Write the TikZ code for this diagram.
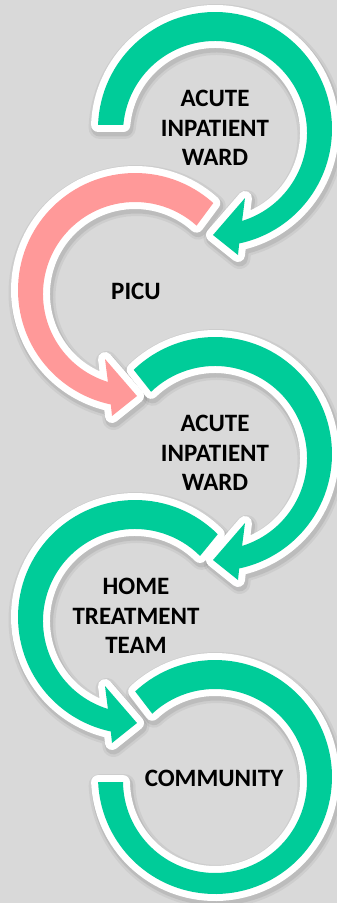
\documentclass[tikz,border=0pt]{standalone}
\usepackage{fontspec}
\setmainfont{Carlito}
\definecolor{bgcol}{HTML}{D9D9D9}
\definecolor{ringgreen}{HTML}{00CC99}
\definecolor{ringpink}{HTML}{FF9999}
% circular arrow, clockwise, local coordinates (origin = ring centre)
\newcommand{\arrowringpath}[2]{(#1:117) arc[start angle=#1, end angle=-78.06, radius=117] -- (23,-126) -- (-2,-106) -- (30,-69) -- (27.08,-91.92) arc[start angle=-72.88, end angle=#2, radius=92] -- cycle}
% open ring without arrowhead
\newcommand{\plainringpath}{(133:117) arc[start angle=133, end angle=-177.5, radius=117] -- (-91.99,-5.12) arc[start angle=180.7, end angle=493, radius=92] -- cycle}
\newcommand{\ringlayer}[2]{%
  \path[#1, shift={(215,-129)}] \arrowringpath{178}{175};
  \path[#2, shift={(135,-290)}, xscale=-1] \arrowringpath{132}{132};
  \path[#1, shift={(215,-454)}] \arrowringpath{134}{134};
  \path[#1, shift={(135,-617)}, xscale=-1] \arrowringpath{135}{135};
  \path[#1, shift={(215,-777)}] \plainringpath;
}
\tikzset{
  shadowsoft/.style={shift={(1.5,-3)}, draw=black, fill=black, line join=round, draw opacity=0.05, fill opacity=0.05, line width=22pt},
  shadowmid/.style={shift={(1.5,-3)}, draw=black, fill=black, line join=round, draw opacity=0.08, fill opacity=0.08, line width=17pt},
  whiteborder/.style={draw=white, fill=white, line width=14pt, line join=round},
  greenfill/.style={fill=ringgreen},
  pinkfill/.style={fill=ringpink},
  lbl/.style={align=center, font=\fontsize{25}{29.5}\selectfont\bfseries, inner sep=0pt, text=black}
}
\begin{document}
\begin{tikzpicture}[x=1pt, y=1pt]
  \useasboundingbox (0,0) rectangle (337,-903);
  \fill[bgcol] (0,0) rectangle (337,-903);
  \ringlayer{shadowsoft}{shadowsoft}
  \ringlayer{shadowmid}{shadowmid}
  \ringlayer{whiteborder}{whiteborder}
  \ringlayer{greenfill}{pinkfill}
  \node[lbl] (ward1) at (215,-128) {ACUTE\\INPATIENT\\WARD};
  \node[lbl] (picu) at (136,-291) {PICU};
  \node[lbl] (ward2) at (215,-453) {ACUTE\\INPATIENT\\WARD};
  \node[lbl] (htt) at (136,-616) {HOME\\TREATMENT\\TEAM};
  \node[lbl] (community) at (214,-778) {COMMUNITY};
\end{tikzpicture}
\end{document}
